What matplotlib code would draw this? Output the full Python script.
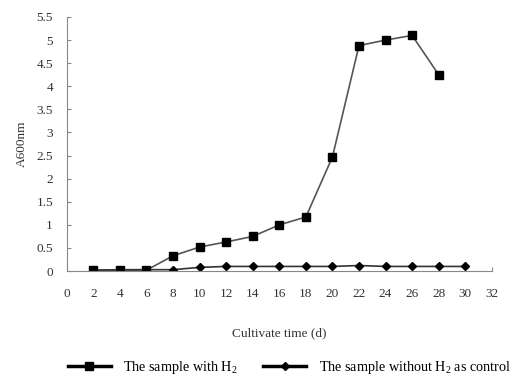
import matplotlib
matplotlib.use("Agg")
import matplotlib.pyplot as plt

plt.rcParams["font.family"] = ["Liberation Serif", "DejaVu Serif"]
plt.rcParams["mathtext.fontset"] = "custom"
plt.rcParams["mathtext.rm"] = "Liberation Serif"

days_h2 = [2, 4, 6, 8, 10, 12, 14, 16, 18, 20, 22, 24, 26, 28]
a600_h2 = [0.02, 0.02, 0.02, 0.33, 0.52, 0.63, 0.75, 1.0, 1.17, 2.47, 4.88, 5.0, 5.1, 4.25]

days_ctrl = [2, 4, 6, 8, 10, 12, 14, 16, 18, 20, 22, 24, 26, 28, 30]
a600_ctrl = [0.02, 0.03, 0.03, 0.03, 0.08, 0.1, 0.1, 0.1, 0.1, 0.1, 0.12, 0.1, 0.1, 0.1, 0.1]

xticks = list(range(0, 33, 2))
yticks = [0, 0.5, 1, 1.5, 2, 2.5, 3, 3.5, 4, 4.5, 5, 5.5]
ytick_labels = ["0", "0.5", "1", "1.5", "2", "2.5", "3", "3.5", "4", "4.5", "5", "5.5"]

fig = plt.figure(figsize=(5.26, 3.77), dpi=100)
ax = fig.add_axes([0.127, 0.281, 0.808, 0.674])

ax.plot(days_h2, a600_h2, color="#555555", lw=1.2, marker="s", markersize=6,
        markerfacecolor="black", markeredgecolor="black", label="The sample with H$_2$")
ax.plot(days_ctrl, a600_ctrl, color="#333333", lw=1.2, marker="D", markersize=4.5,
        markerfacecolor="black", markeredgecolor="black",
        label="The sample without H$_2$ as control")

ax.set_xlim(0, 32)
ax.set_ylim(0, 5.5)
ax.set_xticks(xticks)
ax.set_yticks(yticks)
ax.set_yticklabels(ytick_labels)
ax.tick_params(direction="in", length=3, color="#888888", labelsize=9.5, labelcolor="#333333")
ax.tick_params(axis="x", pad=12)
ax.tick_params(axis="y", pad=10)
for s in ["top", "right"]:
    ax.spines[s].set_visible(False)
for s in ["left", "bottom"]:
    ax.spines[s].set_color("#888888")

ax.set_xlabel("Cultivate time (d)", fontsize=9.5, color="#333333", labelpad=20)
ax.set_ylabel("A600nm", fontsize=9.5, color="#333333", labelpad=6)

leg = fig.legend(loc="lower center", bbox_to_anchor=(0.55, -0.03), ncol=2, frameon=False,
                 fontsize=10.2, handlelength=3.0, columnspacing=1.8, handletextpad=0.9)
for h in leg.legend_handles:
    h.set_linewidth(2.5)
    h.set_color("black")

fig.savefig("out.png", dpi=100)
